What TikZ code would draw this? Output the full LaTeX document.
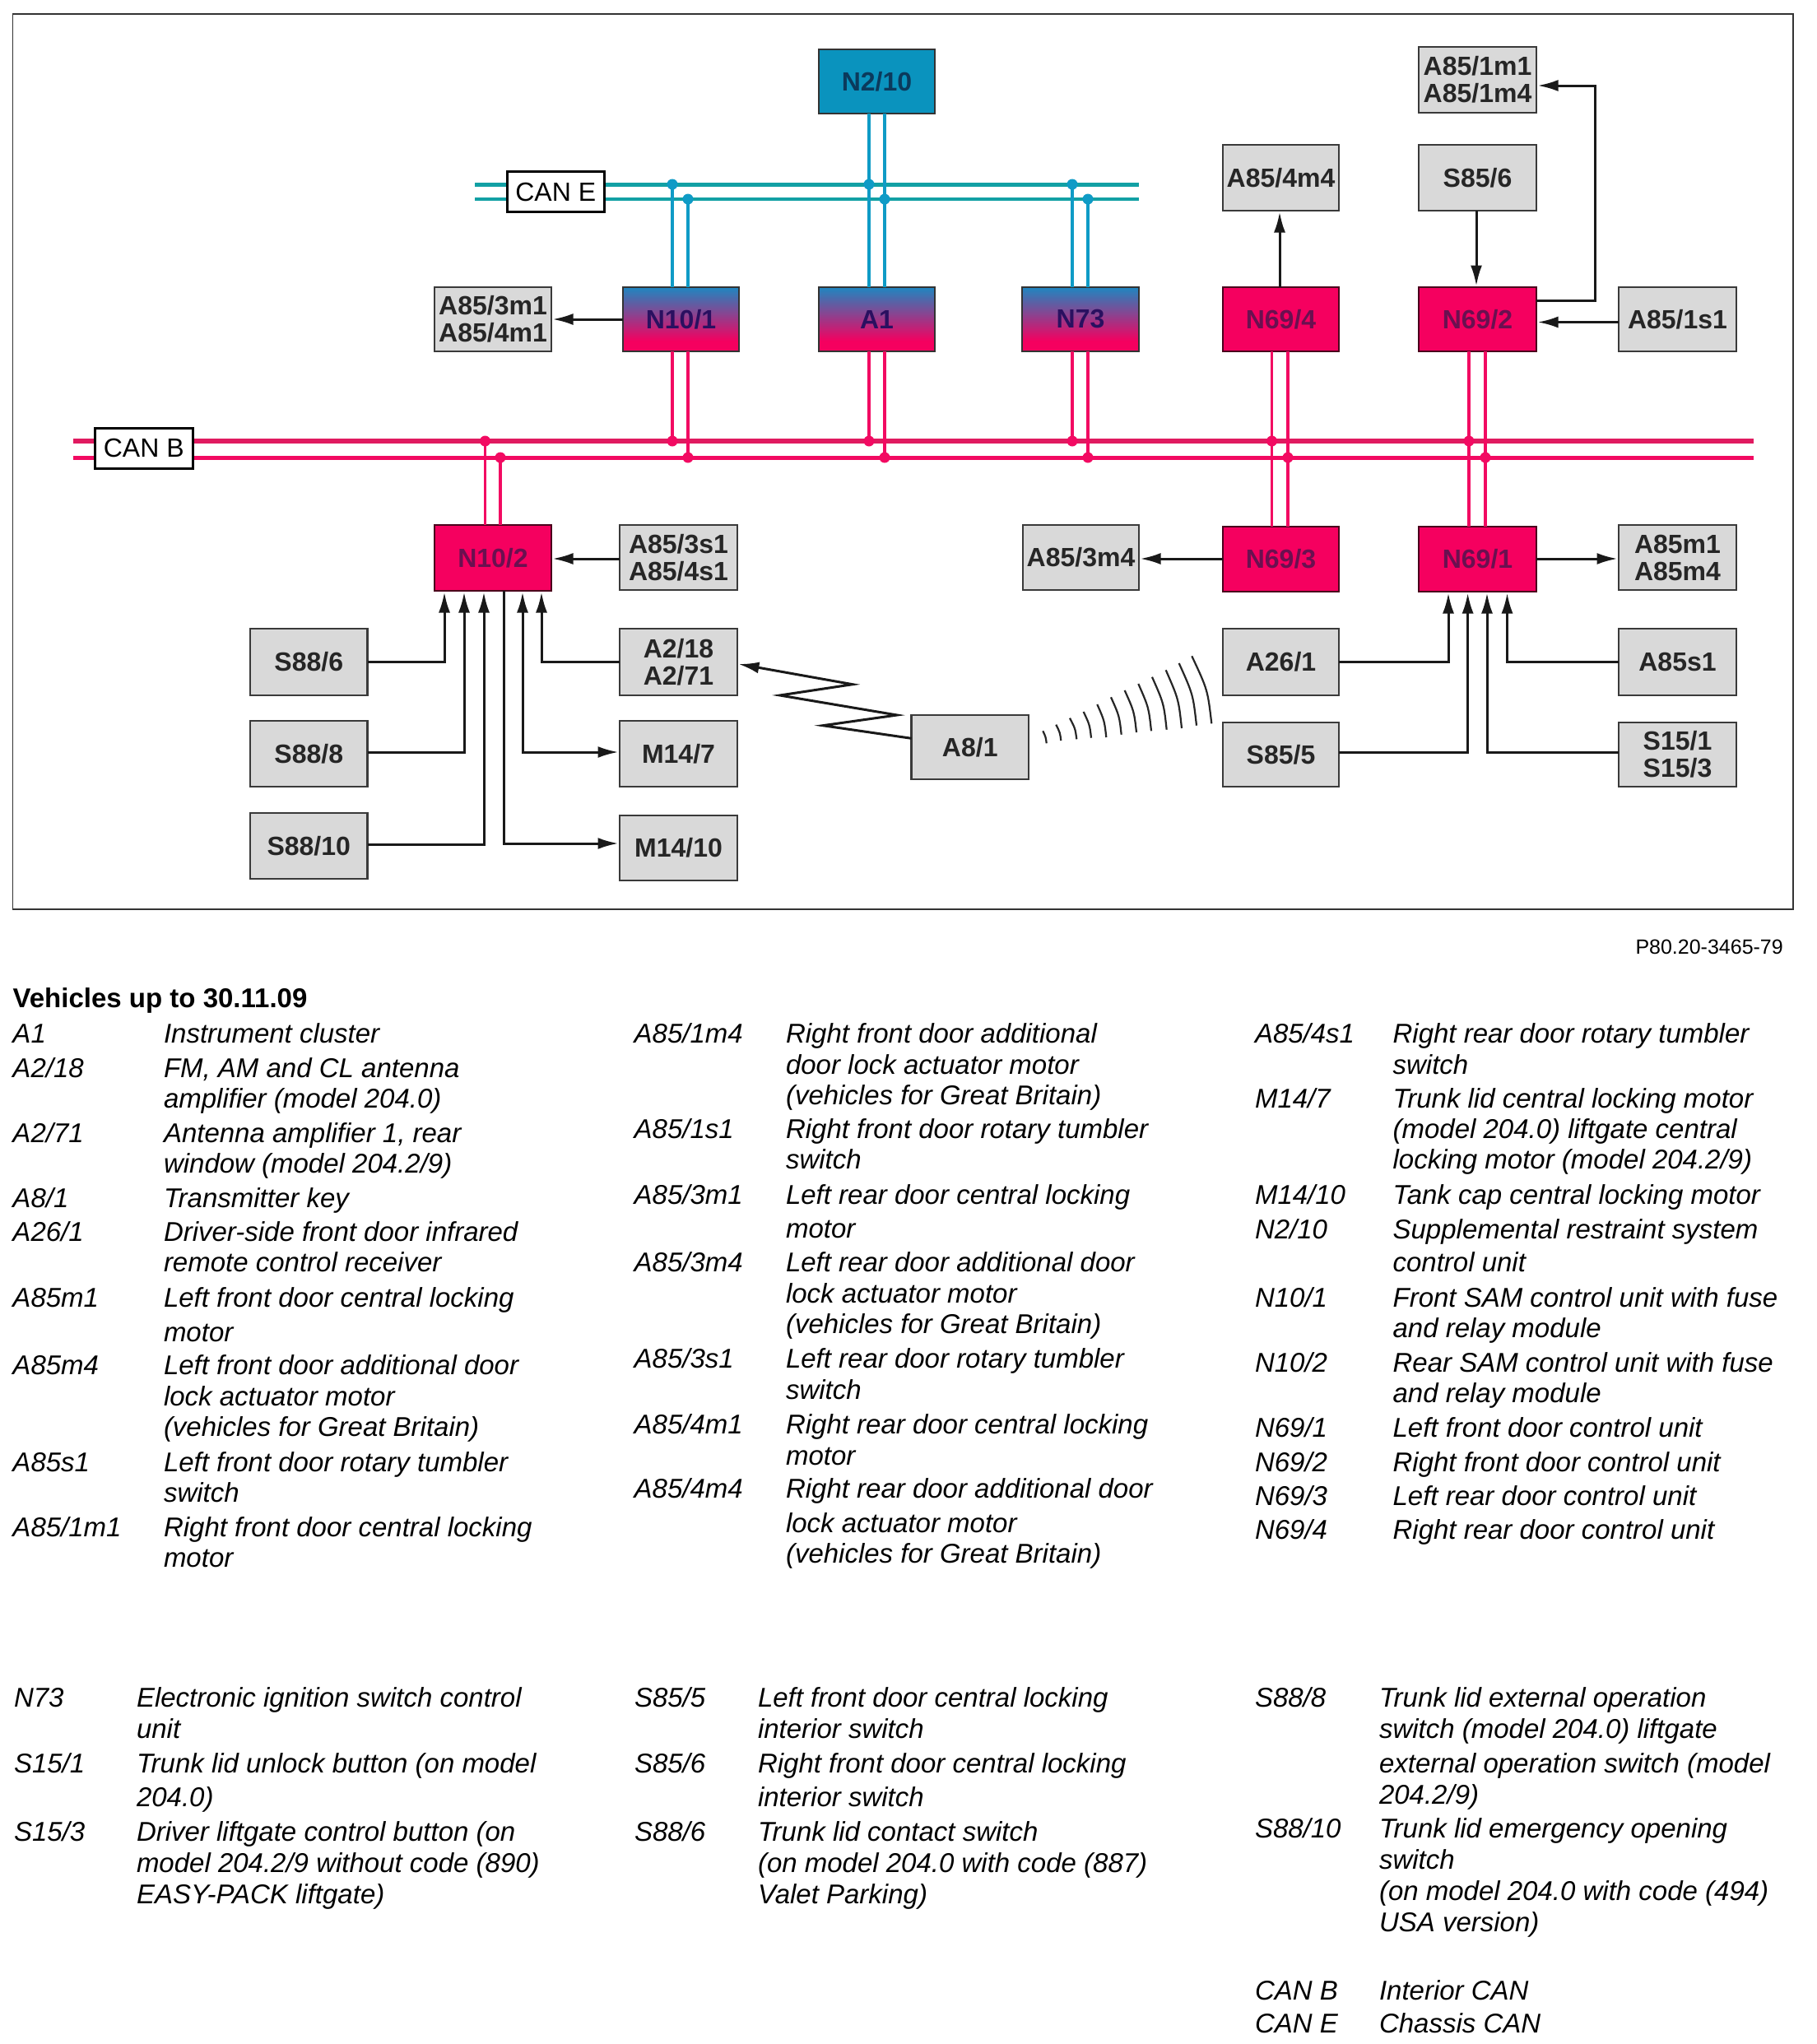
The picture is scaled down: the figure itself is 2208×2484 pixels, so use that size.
\documentclass[tikz,border=0pt]{standalone}
\usepackage{fontspec}
\setmainfont{Liberation Sans}
\usetikzlibrary{arrows.meta}
\definecolor{cpink}{HTML}{F5005F}
\definecolor{cblue}{HTML}{1F86C0}
\definecolor{cteal}{HTML}{0A93BE}
\definecolor{cgray}{HTML}{D9D9D9}
\definecolor{cedge}{HTML}{3A3A3A}
\definecolor{busE}{HTML}{12A0A4}
\definecolor{vertE}{HTML}{0F9BC6}
\definecolor{busB}{HTML}{E01A60}
\definecolor{vertB}{HTML}{F20A62}
\definecolor{txtpink}{HTML}{6A1050}
\definecolor{txtgrad}{HTML}{2A1060}
\definecolor{txtteal}{HTML}{0B3A5C}
\pgfdeclareverticalshading{canshade}{100bp}{color(0bp)=(cpink); color(33bp)=(cpink); color(75bp)=(cblue); color(100bp)=(cblue)}
\tikzset{
  boxbase/.style={draw=cedge,line width=2.5pt,inner sep=0pt,outer sep=0pt,align=center,
    font=\bfseries\fontsize{32}{33}\selectfont},
  boxgray/.style={boxbase,fill=cgray,text=black!85},
  boxpink/.style={boxbase,draw=black!70!cpink,fill=cpink,text=txtpink},
  boxgrad/.style={boxbase,draw=black!80,shading=canshade,text=txtgrad},
  boxteal/.style={boxbase,draw=black!80,fill=cteal,text=txtteal},
  canlabel/.style={draw=black,fill=white,line width=3pt,inner sep=0pt,outer sep=0pt,
    font=\fontsize{32}{33}\selectfont},
  arr/.style={draw=black!90,line width=3pt,-{Latex[length=25pt,width=14pt]},shorten >=1.5pt},
  arrboth/.style={draw=black!90,line width=3pt,{Latex[length=25pt,width=14pt]}-{Latex[length=25pt,width=14pt]},shorten >=1.5pt,shorten <=1.5pt},
  vertblue/.style={draw=vertE,line width=3.8pt},
  vertpink/.style={draw=vertB,line width=3.8pt},
  lgtext/.style={anchor=base west,inner sep=0pt,outer sep=0pt,font=\itshape\fontsize{33}{37}\selectfont},
}
\newcounter{lg}
\newcommand\bx[7][boxgray]{%
  \node[#1,minimum width={#4-#2},minimum height={#5-#3}] (#6) at ({(#2+#4)/2},{(#3+#5)/2}) {#7};}
\newcommand\lgd[5]{\stepcounter{lg}%
  \node[lgtext] (k\thelg) at (#1,#3) {#4};
  \node[lgtext] (d\thelg) at (#2,#3) {\begin{tabular}[t]{@{}l@{}}#5\end{tabular}};}
\begin{document}
\begin{tikzpicture}[x=1pt,y=-1pt]
\useasboundingbox (0,0) rectangle (2208,2484);
\fill[white] (0,0) rectangle (2208,2484);
\draw[line width=1.6pt,draw=black!80] (15.5,17) rectangle (2179,1105);

% buses
\draw[draw=busE,line width=5pt] (577,224) -- (1384,224);
\draw[draw=busE,line width=4pt] (577,242) -- (1384,242);
\draw[draw=busB,line width=6pt] (89,536) -- (2131,536);
\draw[draw=vertB,line width=5pt] (89,556) -- (2131,556);

% control units
\bx[boxteal]{995}{60}{1136}{138}{N210}{N2/10}
\bx[boxgrad]{757}{349}{898}{427}{N101}{N10/1}
\bx[boxgrad]{995}{349}{1136}{427}{A1}{A1}
\bx[boxgrad]{1242}{349}{1384}{427}{N73}{N73}
\bx[boxpink]{1486}{349}{1627}{427}{N694}{N69/4}
\bx[boxpink]{1724}{349}{1867}{427}{N692}{N69/2}
\bx[boxpink]{528}{638}{670}{718}{N102}{N10/2}
\bx[boxpink]{1486}{640}{1627}{719}{N693}{N69/3}
\bx[boxpink]{1724}{640}{1867}{719}{N691}{N69/1}

% components
\bx{528}{349}{670}{427}{A853m}{A85/3m1\\A85/4m1}
\bx{1724}{57}{1867}{137}{A851m}{A85/1m1\\A85/1m4}
\bx{1486}{176}{1627}{256}{A854m}{A85/4m4}
\bx{1724}{176}{1867}{256}{S856}{S85/6}
\bx{1967}{349}{2110}{427}{A851s}{A85/1s1}
\bx{753}{638}{896}{717}{A853s}{A85/3s1\\A85/4s1}
\bx{1243}{638}{1384}{717}{A853mf}{A85/3m4}
\bx{1967}{638}{2110}{717}{A85m}{A85m1\\A85m4}
\bx{304}{764}{446.5}{845}{S886}{S88/6}
\bx{304}{876}{446.5}{956}{S888}{S88/8}
\bx{304}{988}{446.5}{1068}{S8810}{S88/10}
\bx{753}{764}{896}{845}{A218}{A2/18\\A2/71}
\bx{753}{876}{896}{956}{M147}{M14/7}
\bx{753}{991}{896}{1070}{M1410}{M14/10}
\bx{1107.5}{869}{1250}{947}{A81}{A8/1}
\bx{1486}{764}{1627}{845}{A261}{A26/1}
\bx{1486}{878}{1627}{956}{S855}{S85/5}
\bx{1967}{764}{2110}{845}{A85s}{A85s1}
\bx{1967}{878}{2110}{956}{S151}{S15/1\\S15/3}

% CAN labels
\node[canlabel,minimum width=118.5,minimum height=49] (cane) at (675.25,233) {CAN E};
\node[canlabel,minimum width=119.5,minimum height=48.5] (canb) at (174.75,544.75) {CAN B};

% CAN E drops
\draw[vertblue] (N210.south -| 1056,0) -- (A1.north -| 1056,0);
\draw[vertblue] (N210.south -| 1075,0) -- (A1.north -| 1075,0);
\foreach \x/\y/\nd in {817/224/N101,836/242/N101,1303/224/N73,1322/242/N73}
  \draw[vertblue] (\nd.north -| \x,0) -- (\x,\y);
\foreach \x/\y in {817/224,836/242,1056/224,1075/242,1303/224,1322/242}
  \fill[vertE] (\x,\y) circle (6.5pt);

% CAN B drops
\foreach \x/\y/\nd in {817/536/N101,836/556/N101,1056/536/A1,1075/556/A1,1303/536/N73,1322/556/N73}
  \draw[vertpink] (\nd.south -| \x,0) -- (\x,\y);
\foreach \x/\y in {589.5/536,608/556}
  \draw[vertpink] (N102.north -| \x,0) -- (\x,\y);
\draw[vertpink] (N694.south -| 1545.5,0) -- (N693.north -| 1545.5,0);
\draw[vertpink] (N694.south -| 1565,0) -- (N693.north -| 1565,0);
\draw[vertpink] (N692.south -| 1785,0) -- (N691.north -| 1785,0);
\draw[vertpink] (N692.south -| 1805,0) -- (N691.north -| 1805,0);
\foreach \x/\y in {589.5/536,608/556,817/536,836/556,1056/536,1075/556,1303/536,1322/556,1545.5/536,1565/556,1785/536,1805/556}
  \fill[vertB] (\x,\y) circle (6.5pt);

% arrows, top row
\draw[arr] (N101.west |- 0,388) -- (A853m.east |- 0,388);
\draw[arr] (N694.north -| 1555,0) -- (A854m.south -| 1555,0);
\draw[arr] (S856.south -| 1794,0) -- (N692.north -| 1794,0);
\draw[arr] (N692.east |- 0,365.5) -| (1938.5,104) -- (A851m.east |- 0,104);
\draw[arr] (A851s.west |- 0,391.5) -- (N692.east |- 0,391.5);

% arrows round N10/2
\draw[arr] (A853s.west |- 0,679) -- (N102.east |- 0,679);
\draw[arr] (S886.east |- 0,804) -| (N102.south -| 540,0);
\draw[arr] (S888.east |- 0,914) -| (N102.south -| 564,0);
\draw[arr] (S8810.east |- 0,1026) -| (N102.south -| 588,0);
\draw[arr] (A218.west |- 0,804) -| (N102.south -| 658,0);
\draw[arrboth] (N102.south -| 635,0) |- (M147.west |- 0,914);
\draw[arr] (N102.south -| 612,0) |- (M1410.west |- 0,1025);

% arrows round N69/3, N69/1
\draw[arr] (N693.west |- 0,679) -- (A853mf.east |- 0,679);
\draw[arr] (N691.east |- 0,679) -- (A85m.west |- 0,679);
\draw[arr] (A261.east |- 0,804) -| (N691.south -| 1760,0);
\draw[arr] (S855.east |- 0,914) -| (N691.south -| 1783.6,0);
\draw[arr] (S151.west |- 0,914) -| (N691.south -| 1807,0);
\draw[arr] (A85s.west |- 0,804) -| (N691.south -| 1831.5,0);

% radio link
\draw[arr,miter limit=10] (A81.west |- 0,897.3) -- (1000,881.7) -- (1090,869) -- (947.7,845) -- (1036,831.7) -- (A218.east |- 0,806.7);
\foreach \xt/\yt/\xb/\yb in {
 1267.3/888.3/1271.7/903.3, 1283.3/880.7/1289.3/900, 1300/872.7/1308.3/898.3,
 1316.7/865/1326/896.7, 1333.3/856/1344.3/896, 1350/847.3/1362.7/892.7,
 1366.7/839/1381/890, 1383.3/831/1399/888.3, 1400/822.7/1417.7/886.7,
 1416.7/814.3/1436/885, 1432.7/806/1454/881.7, 1448.3/797.3/1472.3/879.3}{
  \pgfmathsetmacro\cx{\xb-0.2*(\xb-\xt)}
  \pgfmathsetmacro\cy{(\yt+\yb)/2}
  \draw[line width=2.2pt,draw=black!85] (\xt,\yt) .. controls (\cx,\cy) .. (\xb,\yb);
}

% figure number
\node[anchor=base east,inner sep=0pt,font=\fontsize{25}{28}\selectfont] (fig) at (2167,1159) {P80.20-3465-79};

% legend heading
\node[anchor=base west,inner sep=0pt,font=\bfseries\fontsize{33}{37}\selectfont] (head) at (15.5,1224) {Vehicles up to 30.11.09};

% column 1
\def\ka{15.5}\def\da{199}
\lgd{\ka}{\da}{1267}{A1}{Instrument cluster}
\lgd{\ka}{\da}{1309}{A2/18}{FM, AM and CL antenna\\amplifier (model 204.0)}
\lgd{\ka}{\da}{1388}{A2/71}{Antenna amplifier 1, rear\\window (model 204.2/9)}
\lgd{\ka}{\da}{1467}{A8/1}{Transmitter key}
\lgd{\ka}{\da}{1508.5}{A26/1}{Driver-side front door infrared\\remote control receiver}
\lgd{\ka}{\da}{1588}{A85m1}{Left front door central locking\\[5pt]motor}
\lgd{\ka}{\da}{1670}{A85m4}{Left front door additional door\\[1pt]lock actuator motor\\(vehicles for Great Britain)}
\lgd{\ka}{\da}{1788}{A85s1}{Left front door rotary tumbler\\switch}
\lgd{\ka}{\da}{1867}{A85/1m1}{Right front door central locking\\motor}

% column 2
\def\kb{770.7}\def\db{955}
\lgd{\kb}{\db}{1267}{A85/1m4}{Right front door additional\\[1pt]door lock actuator motor\\(vehicles for Great Britain)}
\lgd{\kb}{\db}{1383.5}{A85/1s1}{Right front door rotary tumbler\\switch}
\lgd{\kb}{\db}{1463}{A85/3m1}{Left rear door central locking\\[4pt]motor}
\lgd{\kb}{\db}{1545}{A85/3m4}{Left rear door additional door\\[1pt]lock actuator motor\\(vehicles for Great Britain)}
\lgd{\kb}{\db}{1662}{A85/3s1}{Left rear door rotary tumbler\\[1pt]switch}
\lgd{\kb}{\db}{1742}{A85/4m1}{Right rear door central locking\\[1pt]motor}
\lgd{\kb}{\db}{1820.5}{A85/4m4}{Right rear door additional door\\[5pt]lock actuator motor\\(vehicles for Great Britain)}

% column 3
\def\kc{1525}\def\dc{1692.6}
\lgd{\kc}{\dc}{1267}{A85/4s1}{Right rear door rotary tumbler\\[1pt]switch}
\lgd{\kc}{\dc}{1346}{M14/7}{Trunk lid central locking motor\\(model 204.0) liftgate central\\locking motor (model 204.2/9)}
\lgd{\kc}{\dc}{1463}{M14/10}{Tank cap central locking motor}
\lgd{\kc}{\dc}{1505}{N2/10}{Supplemental restraint system\\[3pt]control unit}
\lgd{\kc}{\dc}{1588}{N10/1}{Front SAM control unit with fuse\\and relay module}
\lgd{\kc}{\dc}{1667}{N10/2}{Rear SAM control unit with fuse\\and relay module}
\lgd{\kc}{\dc}{1746}{N69/1}{Left front door control unit}
\lgd{\kc}{\dc}{1788}{N69/2}{Right front door control unit}
\lgd{\kc}{\dc}{1829.5}{N69/3}{Left rear door control unit}
\lgd{\kc}{\dc}{1870.5}{N69/4}{Right rear door control unit}

% lower block
\def\kd{17}\def\dd{166}
\lgd{\kd}{\dd}{2074}{N73}{Electronic ignition switch control\\[1pt]unit}
\lgd{\kd}{\dd}{2154}{S15/1}{Trunk lid unlock button (on model\\[4pt]204.0)}
\lgd{\kd}{\dd}{2237}{S15/3}{Driver liftgate control button (on\\[1pt]model 204.2/9 without code (890)\\[1pt]EASY-PACK liftgate)}
\def\ke{771}\def\de{921}
\lgd{\ke}{\de}{2074}{S85/5}{Left front door central locking\\[1pt]interior switch}
\lgd{\ke}{\de}{2154}{S85/6}{Right front door central locking\\[4pt]interior switch}
\lgd{\ke}{\de}{2237}{S88/6}{Trunk lid contact switch\\[1pt](on model 204.0 with code (887)\\[1pt]Valet Parking)}
\def\kf{1525}\def\df{1676}
\lgd{\kf}{\df}{2074}{S88/8}{Trunk lid external operation\\[1pt]switch (model 204.0) liftgate\\[5pt]external operation switch (model\\[1pt]204.2/9)}
\lgd{\kf}{\df}{2233}{S88/10}{Trunk lid emergency opening\\[1pt]switch\\[1pt](on model 204.0 with code (494)\\[1pt]USA version)}
\lgd{\kf}{\df}{2430}{CAN B}{Interior CAN}
\lgd{\kf}{\df}{2470}{CAN E}{Chassis CAN}
\end{tikzpicture}
\end{document}
